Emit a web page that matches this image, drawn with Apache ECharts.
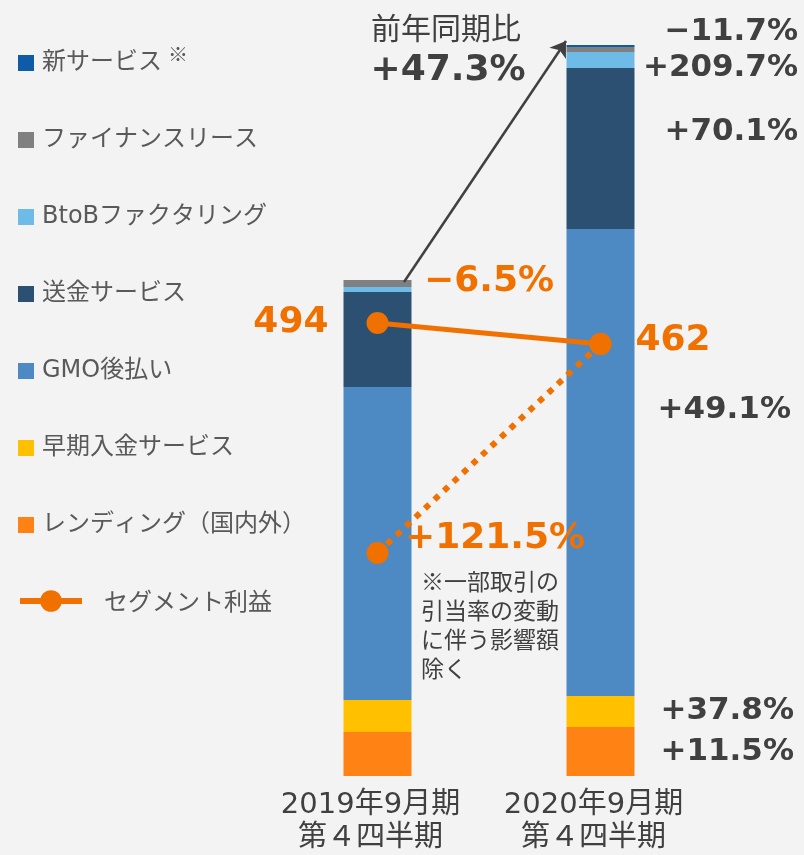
<!DOCTYPE html>
<html>
<head>
<meta charset="utf-8">
<script src="https://cdn.jsdelivr.net/npm/echarts@6/dist/echarts.min.js"></script>
<style>
  html, body { margin: 0; padding: 0; background: #f2f3f2; }
  #main { width: 804px; height: 855px; }
</style>
</head>
<body>
<div id="main"></div>
<script>
// 期
var periods = ['2019年9月期\n第４四半期', '2020年9月期\n第４四半期'];

// 売上構成（積み上げ、下から）
var lending = [44, 49];
var earlyPay = [32, 31];
var atobarai = [313, 467];
var remit = [95, 161];
var btob = [5, 16];
var lease = [7, 5];
var newService = [0, 2];

// セグメント利益
var segmentProfit = [494, 462];
var adjustedProfit = [209, 462];   // ※影響額除く

// 前年同期比
var totalYoY = '+47.3%';
var yoyNew = '−11.7%';
var yoyLease = '+209.7%';
var yoyRemit = '+70.1%';
var yoyAtobarai = '+49.1%';
var yoyEarly = '+37.8%';
var yoyLending = '+11.5%';
var yoyProfit = '−6.5%';
var yoyAdjusted = '+121.5%';

var ORANGE = '#f07100';
var DARK = '#404040';
var NUMFONT = '"DejaVu Sans", "Noto Sans CJK JP", sans-serif';
var JPFONT = '"Noto Sans CJK JP", sans-serif';

var chart = echarts.init(document.getElementById('main'));

function bar(name, data, color) {
  return {
    name: name, type: 'bar', stack: 'sales', data: data,
    barWidth: 68, itemStyle: { color: color }, silent: true
  };
}

function note(text, x, y, size, color, align) {
  return {
    type: 'text', z: 100,
    style: {
      text: text, x: x, y: y, fill: color || DARK,
      font: 'bold ' + size + 'px ' + NUMFONT,
      align: align || 'right', verticalAlign: 'middle'
    }
  };
}

var series = [
  bar('レンディング（国内外）', lending, '#ff8314'),
  bar('早期入金サービス', earlyPay, '#ffc000'),
  bar('GMO後払い', atobarai, '#4d89c2'),
  bar('送金サービス', remit, '#2c5072'),
  bar('BtoBファクタリング', btob, '#6fbbe8'),
  bar('ファイナンスリース', lease, '#808080'),
  bar('新サービス', newService, '#0e5ba8')
];
// 前年同期比の矢印
series[6].clip = false;
series[6].markLine = {
  silent: true,
  symbol: ['none', 'arrow'],
  symbolSize: 15,
  label: { show: false },
  lineStyle: { color: DARK, width: 2.5, type: 'solid' },
  data: [[{ x: 404, y: 282 }, { x: 566, y: 41 }]]
};

series.push({
  name: 'セグメント利益', type: 'line', yAxisIndex: 1, z: 10,
  data: [
    { value: segmentProfit[0], label: { position: 'left', distance: 38 } },
    { value: segmentProfit[1], label: { position: 'right', distance: 24, offset: [0, -3] } }
  ],
  symbol: 'circle', symbolSize: 22,
  itemStyle: { color: ORANGE },
  lineStyle: { color: ORANGE, width: 5 },
  label: {
    show: true, color: ORANGE,
    fontFamily: NUMFONT, fontWeight: 'bold', fontSize: 36
  }
});
series.push({
  name: '影響額除く', type: 'line', yAxisIndex: 2, z: 9,
  data: adjustedProfit,
  symbol: 'circle', symbolSize: 22,
  itemStyle: { color: ORANGE },
  lineStyle: { color: ORANGE, width: 6, type: [6, 7] }
});

chart.setOption({
  backgroundColor: '#f2f3f2',
  animation: false,
  textStyle: { fontFamily: JPFONT },
  grid: { left: 266, right: 92, top: 40, bottom: 79, outerBoundsMode: 'none', containLabel: false },
  legend: [{
    orient: 'vertical', left: 18, top: 44, padding: 0,
    itemWidth: 16, itemHeight: 16, itemGap: 53,
    selectedMode: false,
    icon: 'rect',
    data: ['新サービス', 'ファイナンスリース', 'BtoBファクタリング', '送金サービス',
           'GMO後払い', '早期入金サービス', 'レンディング（国内外）'],
    formatter: function (name) {
      return name === '新サービス' ? '{a|' + name + '}{s|※}' : '{a|' + name + '}';
    },
    textStyle: {
      padding: [0, 0, 0, 3],
      rich: {
        a: { fontSize: 24, lineHeight: 24, color: '#595959', fontFamily: '"DejaVu Sans", "Noto Sans CJK JP"' },
        s: { fontSize: 20, color: '#595959', verticalAlign: 'top', padding: [0, 0, 18, 6], fontFamily: JPFONT }
      }
    }
  }, {
    orient: 'vertical', left: 17, top: 589, padding: 0,
    itemWidth: 62, itemHeight: 27,
    selectedMode: false,
    data: ['セグメント利益'],
    lineStyle: { width: 6, color: ORANGE },
    textStyle: { fontSize: 24, color: '#595959', padding: [0, 0, 0, 17] }
  }],
  xAxis: {
    type: 'category', data: periods,
    axisLine: { show: false }, axisTick: { show: false },
    axisLabel: {
      interval: 0,
      color: DARK, fontSize: 29, lineHeight: 33, margin: 13,
      padding: [0, 14, 0, 0],
      fontFamily: '"DejaVu Sans", "Noto Sans CJK JP"'
    }
  },
  yAxis: [
    { type: 'value', min: 0, max: 736, show: false },
    { type: 'value', min: -196.3, max: 925.2, show: false },
    { type: 'value', min: -61, max: 830, show: false }
  ],
  series: series,
  graphic: [
    {
      type: 'text', z: 100,
      style: { text: '前年同期比', x: 446, y: 28, fill: DARK,
        font: '30px ' + JPFONT, align: 'center', verticalAlign: 'middle' }
    },
    note(totalYoY, 448, 71, 36, DARK, 'center'),
    note(yoyNew, 798, 32, 31),
    note(yoyLease, 798, 68, 31),
    note(yoyRemit, 798, 132, 31),
    note(yoyAtobarai, 791, 410, 31),
    note(yoyEarly, 794, 711, 31),
    note(yoyLending, 794, 752, 31),
    note(yoyProfit, 424, 282, 36, ORANGE, 'left'),
    note(yoyAdjusted, 405, 539, 36, ORANGE, 'left'),
    {
      type: 'text', z: 100,
      style: {
        text: '※一部取引の\n引当率の変動\nに伴う影響額\n除く',
        x: 421, y: 567, fill: DARK, lineHeight: 29,
        font: '23px ' + JPFONT, align: 'left', verticalAlign: 'top'
      }
    }
  ]
});
</script>
</body>
</html>
